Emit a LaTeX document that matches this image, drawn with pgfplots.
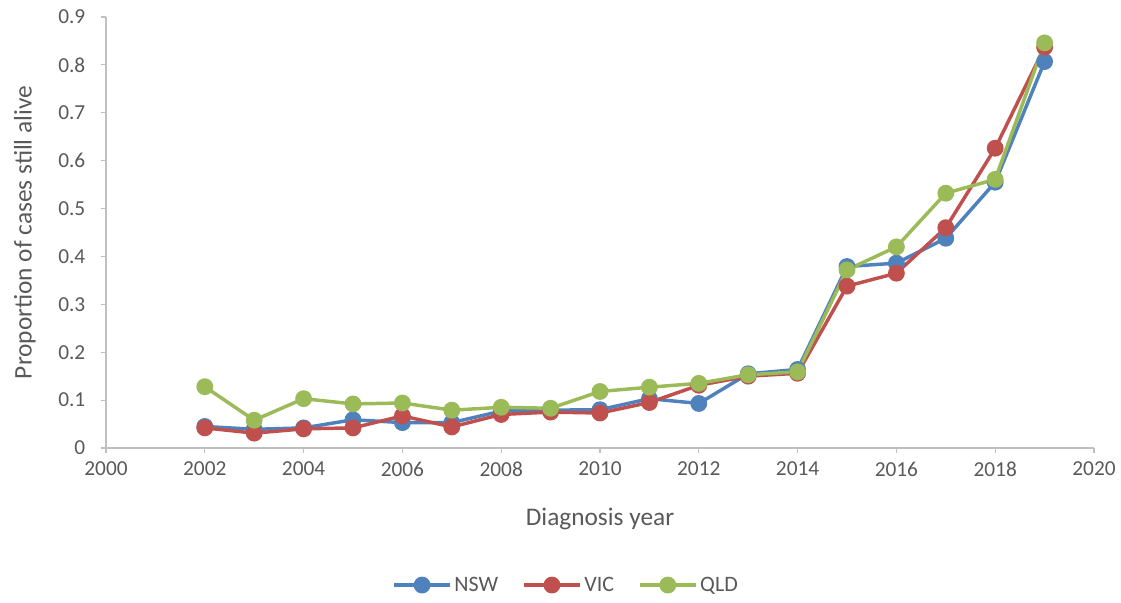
\documentclass[border=0pt]{standalone}
\usepackage{pgfplots}
\pgfplotsset{compat=1.18}
\usepackage{fontspec}
\setmainfont{Carlito}
\definecolor{nswblue}{HTML}{4F81BD}
\definecolor{vicred}{HTML}{C0504D}
\definecolor{qldgreen}{HTML}{9BBB59}
\definecolor{txtgray}{HTML}{595959}
\definecolor{axgray}{HTML}{BFBFBF}

\pgfplotstableread{
year  nsw    vic    qld
2002  0.045  0.042  0.128
2003  0.039  0.031  0.058
2004  0.042  0.040  0.103
2005  0.059  0.042  0.092
2006  0.053  0.067  0.094
2007  0.053  0.044  0.079
2008  0.077  0.070  0.085
2009  0.079  0.075  0.083
2010  0.080  0.073  0.118
2011  0.103  0.095  0.127
2012  0.093  0.131  0.135
2013  0.155  0.150  0.153
2014  0.164  0.156  0.159
2015  0.379  0.338  0.372
2016  0.386  0.365  0.420
2017  0.438  0.460  0.532
2018  0.555  0.626  0.561
2019  0.807  0.837  0.846
}\survival

\begin{document}
\begin{tikzpicture}[x=1pt,y=1pt]
\begin{axis}[
  at={(0,0)}, anchor=south west,
  scale only axis,
  width=741pt, height=323.25pt,
  xmin=2000, xmax=2020, ymin=0, ymax=0.9,
  xtick={2000,2002,...,2020},
  ytick={0,0.1,...,0.9},
  axis lines*=left,
  axis line style={axgray, line width=0.9pt},
  tick style={axgray, line width=0.9pt},
  tick align=outside,
  major tick length=4pt,
  x tick label style={/pgf/number format/1000 sep={}, yshift=-3pt},
  y tick label style={/pgf/number format/fixed, /pgf/number format/precision=1, xshift=-8pt},
  /pgf/number format/assume math mode=true,
  ticklabel style={font=\fontsize{16}{19}\selectfont, text=txtgray},
  xlabel={Diagnosis year},
  ylabel={Proportion of cases still alive},
  label style={font=\fontsize{19}{22}\selectfont, text=txtgray},
  xlabel style={at={(axis description cs:0.5,-0.165)}, anchor=center},
  ylabel style={at={(axis description cs:-0.082,0.5)}, anchor=center, rotate=0},
  legend columns=3,
  legend style={draw=none, at={(0.466,-0.318)}, anchor=center,
    font=\fontsize{16.5}{19}\selectfont, text=txtgray,
    /tikz/every even column/.append style={column sep=16pt}},
  legend cell align=left,
  legend image code/.code={
    \draw[mark repeat=2, mark phase=2] plot coordinates {(0pt,0pt) (21pt,0pt) (42pt,0pt)};},
  every axis plot/.append style={line width=2.6pt, mark=*, mark size=5pt,
    mark options={line width=0.5pt}},
  clip=false,
]
\addplot[nswblue, mark options={fill=nswblue, draw=nswblue}] table[x=year, y=nsw] {\survival};
\addlegendentry{NSW}
\addplot[vicred, mark options={fill=vicred, draw=vicred}] table[x=year, y=vic] {\survival};
\addlegendentry{VIC}
\addplot[qldgreen, mark options={fill=qldgreen, draw=qldgreen}] table[x=year, y=qld] {\survival};
\addlegendentry{QLD}
\end{axis}
\pgfresetboundingbox
\useasboundingbox (-79.5pt,-116.25pt) rectangle (761.25pt,336pt);
\end{tikzpicture}
\end{document}
